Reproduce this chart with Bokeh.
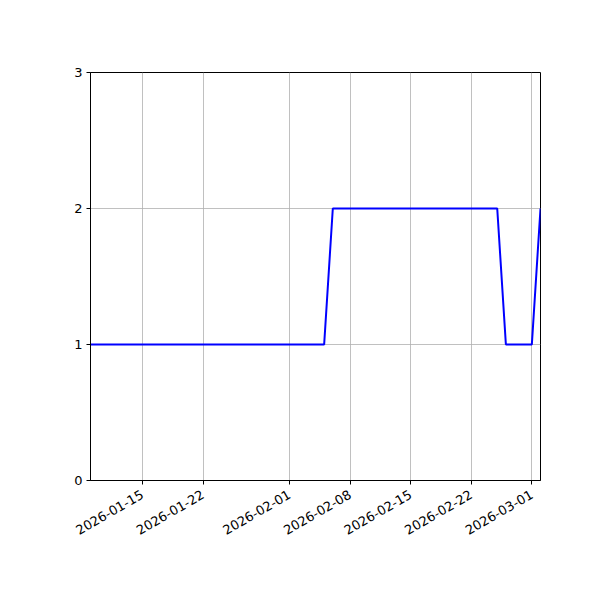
import math
import pandas as pd
from bokeh.plotting import figure
from bokeh.models import Range1d, FixedTicker, DatetimeTickFormatter
from bokeh.embed import file_html
from bokeh.resources import INLINE

# daily counts, 2026-01-09 .. 2026-03-02
start_date = "2026-01-09"
counts = [1, 1, 1, 1, 1, 1, 1, 1, 1, 1,
          1, 1, 1, 1, 1, 1, 1, 1, 1, 1,
          1, 1, 1, 1, 1, 1, 1, 1,
          2, 2, 2, 2, 2, 2, 2, 2, 2, 2,
          2, 2, 2, 2, 2, 2, 2, 2, 2, 2,
          1, 1, 1, 1,
          2]
x_ticks = ["2026-01-15", "2026-01-22", "2026-02-01", "2026-02-08",
           "2026-02-15", "2026-02-22", "2026-03-01"]
y_ticks = [0, 1, 2, 3]

dates = pd.date_range(start_date, periods=len(counts), freq="D")
df = pd.DataFrame({"date": dates, "count": counts})

def ms(d):
    return pd.Timestamp(d).value / 1e6

p = figure(
    x_axis_type="datetime",
    frame_width=450, frame_height=408,
    min_border_left=90, min_border_right=50,
    min_border_top=72, min_border_bottom=100,
    x_range=Range1d(ms(dates[0]), ms(dates[-1])),
    y_range=Range1d(0, 3),
    output_backend="svg",
    toolbar_location=None,
    tools="",
)

p.line(x="date", y="count", source=df, line_color="blue", line_width=2)

p.xaxis.ticker = FixedTicker(ticks=[ms(t) for t in x_ticks])
p.xaxis.formatter = DatetimeTickFormatter(days="%Y-%m-%d", months="%Y-%m-%d")
p.xaxis.major_label_orientation = math.pi / 6
p.yaxis.ticker = FixedTicker(ticks=y_ticks)

for ax in (p.xaxis, p.yaxis):
    ax.minor_tick_line_color = None
    ax.major_tick_in = 0
    ax.major_tick_out = 4
    ax.major_tick_line_color = "black"
    ax.axis_line_color = "black"
    ax.major_label_text_font = "DejaVu Sans"
    ax.major_label_text_font_size = "13px"
    ax.major_label_text_color = "black"
    ax.major_label_standoff = 4
p.xaxis.major_label_standoff = 9

p.grid.grid_line_color = "#b0b0b0"
p.grid.grid_line_width = 0.8
p.outline_line_color = "black"
p.outline_line_width = 1
p.outline_line_alpha = 1

open("out.html", "w").write(file_html(p, INLINE))
